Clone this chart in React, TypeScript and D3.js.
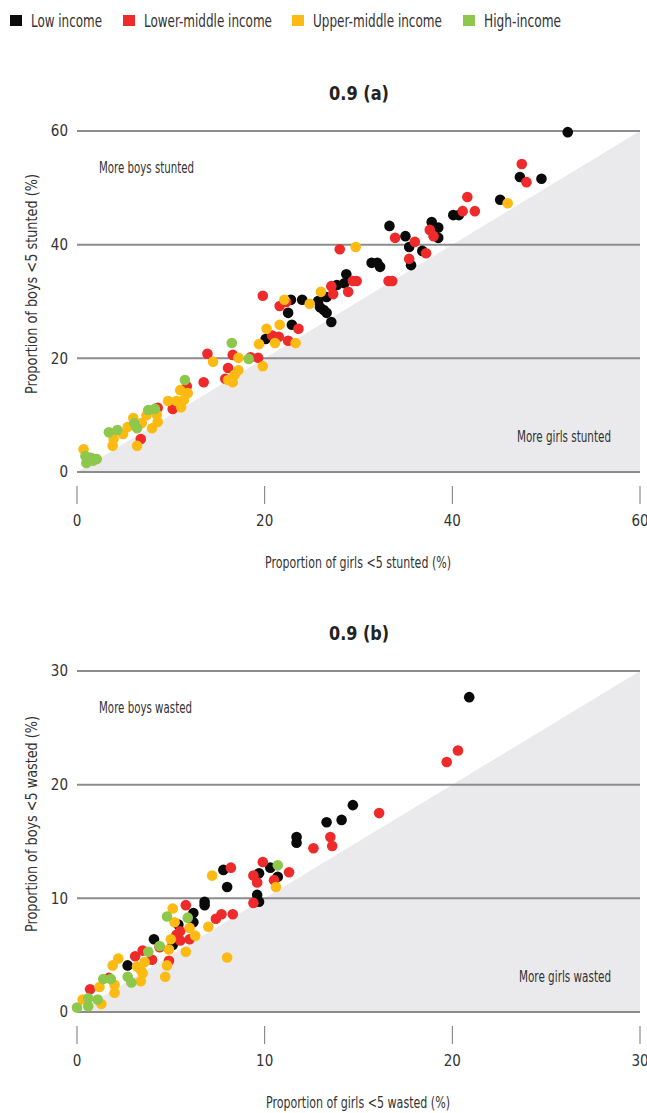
import React from 'react';
import * as d3 from 'd3';

// income group legend
const groups = ['Low income', 'Lower-middle income', 'Upper-middle income', 'High-income'];
const groupColors = ['#0a0a0a', '#ee2a2b', '#fcba12', '#8dc74c'];

// chart (a): [girls stunted %, boys stunted %]
const stuntedLow = [
  [52.3, 59.8], [47.2, 51.9], [49.5, 51.6], [45.1, 47.9], [40.1, 45.2], [40.7, 45.2],
  [37.8, 44.0], [38.5, 43.0], [38.5, 41.2], [33.3, 43.3], [35.0, 41.5], [35.4, 39.6],
  [36.8, 38.9], [35.6, 36.4], [31.4, 36.8], [32.0, 36.8], [32.3, 36.1], [28.7, 34.8],
  [28.5, 33.2], [27.7, 32.9], [26.6, 30.8], [24.0, 30.3], [22.8, 30.3], [25.7, 30.1],
  [25.9, 29.0], [26.3, 28.5], [26.6, 28.0], [27.1, 26.4], [22.5, 28.0], [22.9, 25.9],
  [20.1, 23.4],
];
const stuntedLowerMiddle = [
  [47.4, 54.2], [47.9, 51.0], [41.6, 48.4], [41.1, 45.9], [42.4, 45.9], [37.6, 42.6],
  [38.0, 41.5], [33.9, 41.2], [36.0, 40.5], [37.2, 38.5], [35.4, 37.5], [28.0, 39.2],
  [29.4, 33.6], [29.8, 33.6], [33.2, 33.6], [33.6, 33.6], [28.9, 31.7], [27.1, 32.7],
  [27.3, 31.3], [21.6, 29.2], [22.3, 29.9], [19.8, 31.0], [23.6, 25.2], [20.8, 24.0],
  [21.5, 23.8], [22.5, 23.1], [13.9, 20.8], [16.6, 20.6], [18.5, 20.2], [19.3, 20.1],
  [16.1, 18.3], [15.8, 16.4], [13.5, 15.8], [11.7, 15.1], [10.2, 11.1], [8.6, 11.3],
  [6.8, 5.8],
];
const stuntedUpperMiddle = [
  [45.9, 47.3], [29.7, 39.6], [26.0, 31.7], [22.1, 30.3], [24.8, 29.6], [21.6, 25.9],
  [20.2, 25.2], [21.1, 22.7], [23.3, 22.7], [19.4, 22.5], [17.2, 20.1], [14.5, 19.4],
  [17.2, 17.9], [16.8, 17.1], [16.1, 16.2], [16.6, 15.8], [19.8, 18.6], [11.0, 14.4],
  [11.8, 13.9], [11.4, 12.7], [9.7, 12.5], [10.6, 12.5], [11.1, 11.4], [7.4, 10.0],
  [8.5, 10.1], [8.6, 8.8], [8.0, 7.7], [6.0, 9.5], [5.4, 7.9], [6.9, 8.6], [4.9, 6.7],
  [3.9, 5.8], [3.8, 4.6], [6.4, 4.6], [0.7, 4.0],
];
const stuntedHigh = [
  [16.5, 22.7], [18.3, 19.9], [11.5, 16.2], [7.6, 10.9], [8.3, 11.1], [6.1, 8.6],
  [6.4, 7.7], [3.4, 7.0], [4.3, 7.4], [0.9, 2.8], [1.5, 2.5], [2.1, 2.3], [1.0, 1.6],
  [1.7, 2.0],
];

// chart (b): [girls wasted %, boys wasted %]
const wastedLow = [
  [20.9, 27.7], [14.7, 18.2], [14.1, 16.9], [13.3, 16.7], [11.7, 15.4], [11.7, 14.9],
  [10.3, 12.7], [10.7, 11.9], [9.7, 12.2], [9.6, 10.3], [9.7, 9.7], [7.8, 12.5],
  [8.0, 11.0], [6.8, 9.7], [6.8, 9.4], [6.2, 8.7], [6.2, 7.9], [5.4, 7.7], [4.1, 6.4],
  [5.1, 5.9], [2.7, 4.1],
];
const wastedLowerMiddle = [
  [20.3, 23.0], [19.7, 22.0], [16.1, 17.5], [13.5, 15.4], [12.6, 14.4], [13.6, 14.6],
  [9.9, 13.2], [11.3, 12.3], [10.5, 11.6], [9.4, 12.0], [9.6, 11.4], [9.4, 9.6],
  [8.2, 12.7], [5.8, 9.4], [7.7, 8.6], [7.4, 8.2], [8.3, 8.6], [5.5, 7.1], [5.3, 6.8],
  [5.5, 6.3], [6.0, 6.4], [4.4, 5.7], [3.5, 5.4], [3.1, 4.9], [4.0, 4.6], [4.9, 4.5],
  [1.7, 3.0], [0.7, 2.0],
];
const wastedUpperMiddle = [
  [10.6, 11.0], [7.2, 12.0], [5.1, 9.1], [5.2, 7.9], [6.0, 7.4], [7.0, 7.5], [6.3, 6.7],
  [5.0, 6.4], [4.9, 5.5], [5.8, 5.3], [8.0, 4.8], [2.2, 4.7], [1.9, 4.1], [3.2, 4.0],
  [3.6, 4.4], [3.4, 3.7], [3.5, 3.4], [4.8, 4.1], [4.7, 3.1], [3.4, 2.7], [1.2, 2.2],
  [2.0, 2.4], [2.0, 1.7], [0.3, 1.1], [1.3, 0.7],
];
const wastedHigh = [
  [10.7, 12.9], [4.8, 8.4], [5.9, 8.3], [4.4, 5.8], [3.8, 5.3], [2.7, 3.1], [2.9, 2.6],
  [1.4, 2.9], [1.8, 2.9], [0.6, 1.2], [0.6, 0.5], [1.1, 1.1], [0.0, 0.4],
];

const stuntedTicks = [0, 20, 40, 60];
const wastedTicks = [0, 10, 20, 30];

const font = "'DejaVu Sans Condensed', 'DejaVu Sans', sans-serif";
const textColor = '#333';

// text squeezed to the width it has in the reference (no condensed web font here)
const Label = ({ w, children, ...rest }) => (
  <text textLength={w} lengthAdjust="spacingAndGlyphs" fontStretch="condensed" {...rest}>
    {children}
  </text>
);

const Panel = ({ top, title, max, ticks, series, xTitle, yTitle, boysNote, girlsNote, widths }) => {
  const left = 77;
  const right = 640;
  const bottom = top + 341;

  const x = d3.scaleLinear().domain([0, max]).range([left, right]);
  const y = d3.scaleLinear().domain([0, max]).range([bottom, top]);

  const triangle = d3.line()([
    [x(0), y(0)],
    [x(max), y(max)],
    [x(max), y(0)],
  ]) + 'Z';

  return (
    <g>
      <Label w={60} x={329} y={top - 38} dy="0.35em" fontSize={19} fontWeight="bold" fill="#222">
        {title}
      </Label>
      <path d={triangle} fill="#eaeaed" />
      {ticks.map((t) => (
        <g key={'g' + t}>
          <line x1={x(0)} x2={x(max)} y1={y(t)} y2={y(t)} stroke="#8c8c8c" strokeWidth={2} />
          <text x={68} y={y(t)} dy="0.35em" textAnchor="end" fontSize={15} fontStretch="condensed" fill={textColor}>
            {t}
          </text>
          <line x1={x(t)} x2={x(t)} y1={bottom + 14} y2={bottom + 32} stroke="#777" strokeWidth={1} />
          <text x={x(t)} y={bottom + 49} dy="0.35em" textAnchor="middle" fontSize={15} fontStretch="condensed" fill={textColor}>
            {t}
          </text>
        </g>
      ))}
      <Label w={widths[0]} x={99} y={top + 37} dy="0.35em" fontSize={15} fill={textColor}>
        {boysNote}
      </Label>
      <Label w={widths[1]} x={611 - widths[1]} y={bottom - 35} dy="0.35em" fontSize={15} fill={textColor}>
        {girlsNote}
      </Label>
      <Label w={widths[2]} x={358 - widths[2] / 2} y={bottom + 91} dy="0.35em" fontSize={15} fill={textColor}>
        {xTitle}
      </Label>
      <Label
        w={widths[3]}
        transform={`translate(32,${top + 153 + widths[3] / 2}) rotate(-90)`}
        dy="0.35em"
        fontSize={15}
        fill={textColor}
      >
        {yTitle}
      </Label>
      {series.map((pts, i) => (
        <g key={'s' + i} fill={groupColors[i]}>
          {pts.map((d, j) => (
            <circle key={j} cx={x(d[0])} cy={y(d[1])} r={5.3} />
          ))}
        </g>
      ))}
    </g>
  );
};

const legendX = [10, 123, 292, 463];
const legendW = [71, 128, 129, 77];

export default function App() {
  return (
    <svg
      width={647}
      height={1113}
      style={{ position: 'absolute', left: 0, top: 0, fontFamily: font }}
    >
      <rect width={647} height={1113} fill="#fff" />
      {groups.map((g, i) => (
        <g key={g}>
          <rect x={legendX[i]} y={15} width={12} height={11} fill={groupColors[i]} />
          <Label w={legendW[i]} x={legendX[i] + 21} y={21} dy="0.35em" fontSize={17} fill={textColor}>
            {g}
          </Label>
        </g>
      ))}
      <Panel
        top={131}
        title="0.9 (a)"
        max={60}
        ticks={stuntedTicks}
        series={[stuntedLow, stuntedLowerMiddle, stuntedUpperMiddle, stuntedHigh]}
        xTitle="Proportion of girls <5 stunted (%)"
        yTitle="Proportion of boys <5 stunted (%)"
        boysNote="More boys stunted"
        girlsNote="More girls stunted"
        widths={[95, 94, 186, 220]}
      />
      <Panel
        top={671}
        title="0.9 (b)"
        max={30}
        ticks={wastedTicks}
        series={[wastedLow, wastedLowerMiddle, wastedUpperMiddle, wastedHigh]}
        xTitle="Proportion of girls <5 wasted (%)"
        yTitle="Proportion of boys <5 wasted (%)"
        boysNote="More boys wasted"
        girlsNote="More girls wasted"
        widths={[93, 92, 184, 216]}
      />
    </svg>
  );
}
